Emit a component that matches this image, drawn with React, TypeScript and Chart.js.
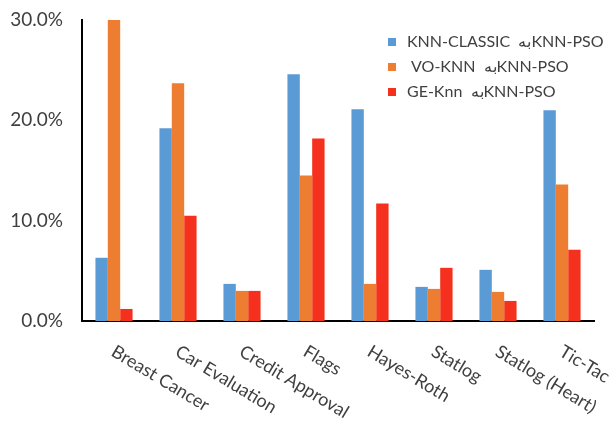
import { useEffect, useRef } from "react";
import { Chart, registerables } from "chart.js";

Chart.register(...registerables);

const categories = [
  "Breast Cancer",
  "Car Evaluation",
  "Credit Approval",
  "Flags",
  "Hayes-Roth",
  "Statlog",
  "Statlog (Heart)",
  "Tic-Tac",
];
const classicValues = [6.3, 19.2, 3.7, 24.6, 21.1, 3.4, 5.1, 21.0];
const voValues = [30.0, 23.7, 3.0, 14.5, 3.7, 3.2, 2.9, 13.6];
const geValues = [1.2, 10.5, 3.0, 18.2, 11.7, 5.3, 2.0, 7.1];
const seriesLabels = [
  "KNN-CLASSIC  بهKNN-PSO",
  " VO-KNN  بهKNN-PSO",
  "GE-Knn  بهKNN-PSO",
];
const seriesColors = ["#5B9BD5", "#ED7D31", "#F5301E"];
const yMax = 30;
const yStep = 10;

const FONT = "Lato, 'Open Sans', sans-serif";
const TEXT_COLOR = "#404040";

// Category names drawn slanted downward, starting under each group.
const slantedLabels = {
  id: "slantedLabels",
  afterDraw(chart: any) {
    const ctx = chart.ctx;
    const xScale = chart.scales.x;
    const base = chart.chartArea.bottom;
    ctx.save();
    ctx.font = `18px ${FONT}`;
    ctx.fillStyle = TEXT_COLOR;
    ctx.textAlign = "left";
    ctx.textBaseline = "alphabetic";
    categories.forEach((name, i) => {
      const px = xScale.getPixelForValue(i);
      ctx.save();
      ctx.translate(px - 4, base + 34);
      ctx.rotate((31 * Math.PI) / 180);
      ctx.fillText(name, 0, 0);
      ctx.restore();
    });
    ctx.restore();
  },
};

// Legend box in the upper right of the plot.
const cornerLegend = {
  id: "cornerLegend",
  afterDraw(chart: any) {
    const ctx = chart.ctx;
    const left = chart.chartArea.right - 206;
    const top = chart.chartArea.top + 22;
    ctx.save();
    ctx.font = `16px ${FONT}`;
    ctx.textAlign = "left";
    ctx.textBaseline = "middle";
    seriesLabels.forEach((label, i) => {
      const cy = top + i * 25;
      ctx.fillStyle = seriesColors[i];
      ctx.fillRect(left, cy - 4, 8, 8);
      ctx.fillStyle = TEXT_COLOR;
      ctx.fillText(label, left + 19, cy);
    });
    ctx.restore();
  },
};

export default function App() {
  const canvasRef = useRef<HTMLCanvasElement | null>(null);

  useEffect(() => {
    if (!canvasRef.current) return;
    const chart = new Chart(canvasRef.current, {
      type: "bar",
      data: {
        labels: categories,
        datasets: [classicValues, voValues, geValues].map((values, i) => ({
          label: seriesLabels[i],
          data: values,
          backgroundColor: seriesColors[i],
          borderWidth: 0,
          barPercentage: 1,
          categoryPercentage: 0.58,
        })),
      },
      plugins: [slantedLabels, cornerLegend],
      options: {
        responsive: false,
        animation: false,
        layout: { padding: { top: 20, right: 21, left: 0, bottom: 0 } },
        plugins: {
          legend: { display: false },
          tooltip: { enabled: false },
        },
        scales: {
          x: {
            grid: { display: false, drawTicks: false },
            border: { display: true, color: "#000", width: 2 },
            ticks: { display: false },
            afterFit(scale: any) {
              scale.height = 104;
              scale.paddingLeft = 0;
              scale.paddingRight = 0;
            },
          },
          y: {
            min: 0,
            max: yMax,
            grid: { display: false, drawTicks: false },
            border: { display: true, color: "#000", width: 2 },
            ticks: {
              stepSize: yStep,
              padding: 19,
              color: TEXT_COLOR,
              font: { family: FONT, size: 19 },
              callback: (v: any) => `${Number(v).toFixed(1)}%`,
            },
            afterFit(scale: any) {
              scale.width = 82;
              scale.paddingTop = 0;
              scale.paddingBottom = 0;
            },
          },
        },
      },
    });
    return () => chart.destroy();
  }, []);

  return (
    <div style={{ position: "fixed", left: 0, top: 0, width: 615, height: 425, background: "#fff" }}>
      <canvas ref={canvasRef} width={615} height={425} />
    </div>
  );
}
